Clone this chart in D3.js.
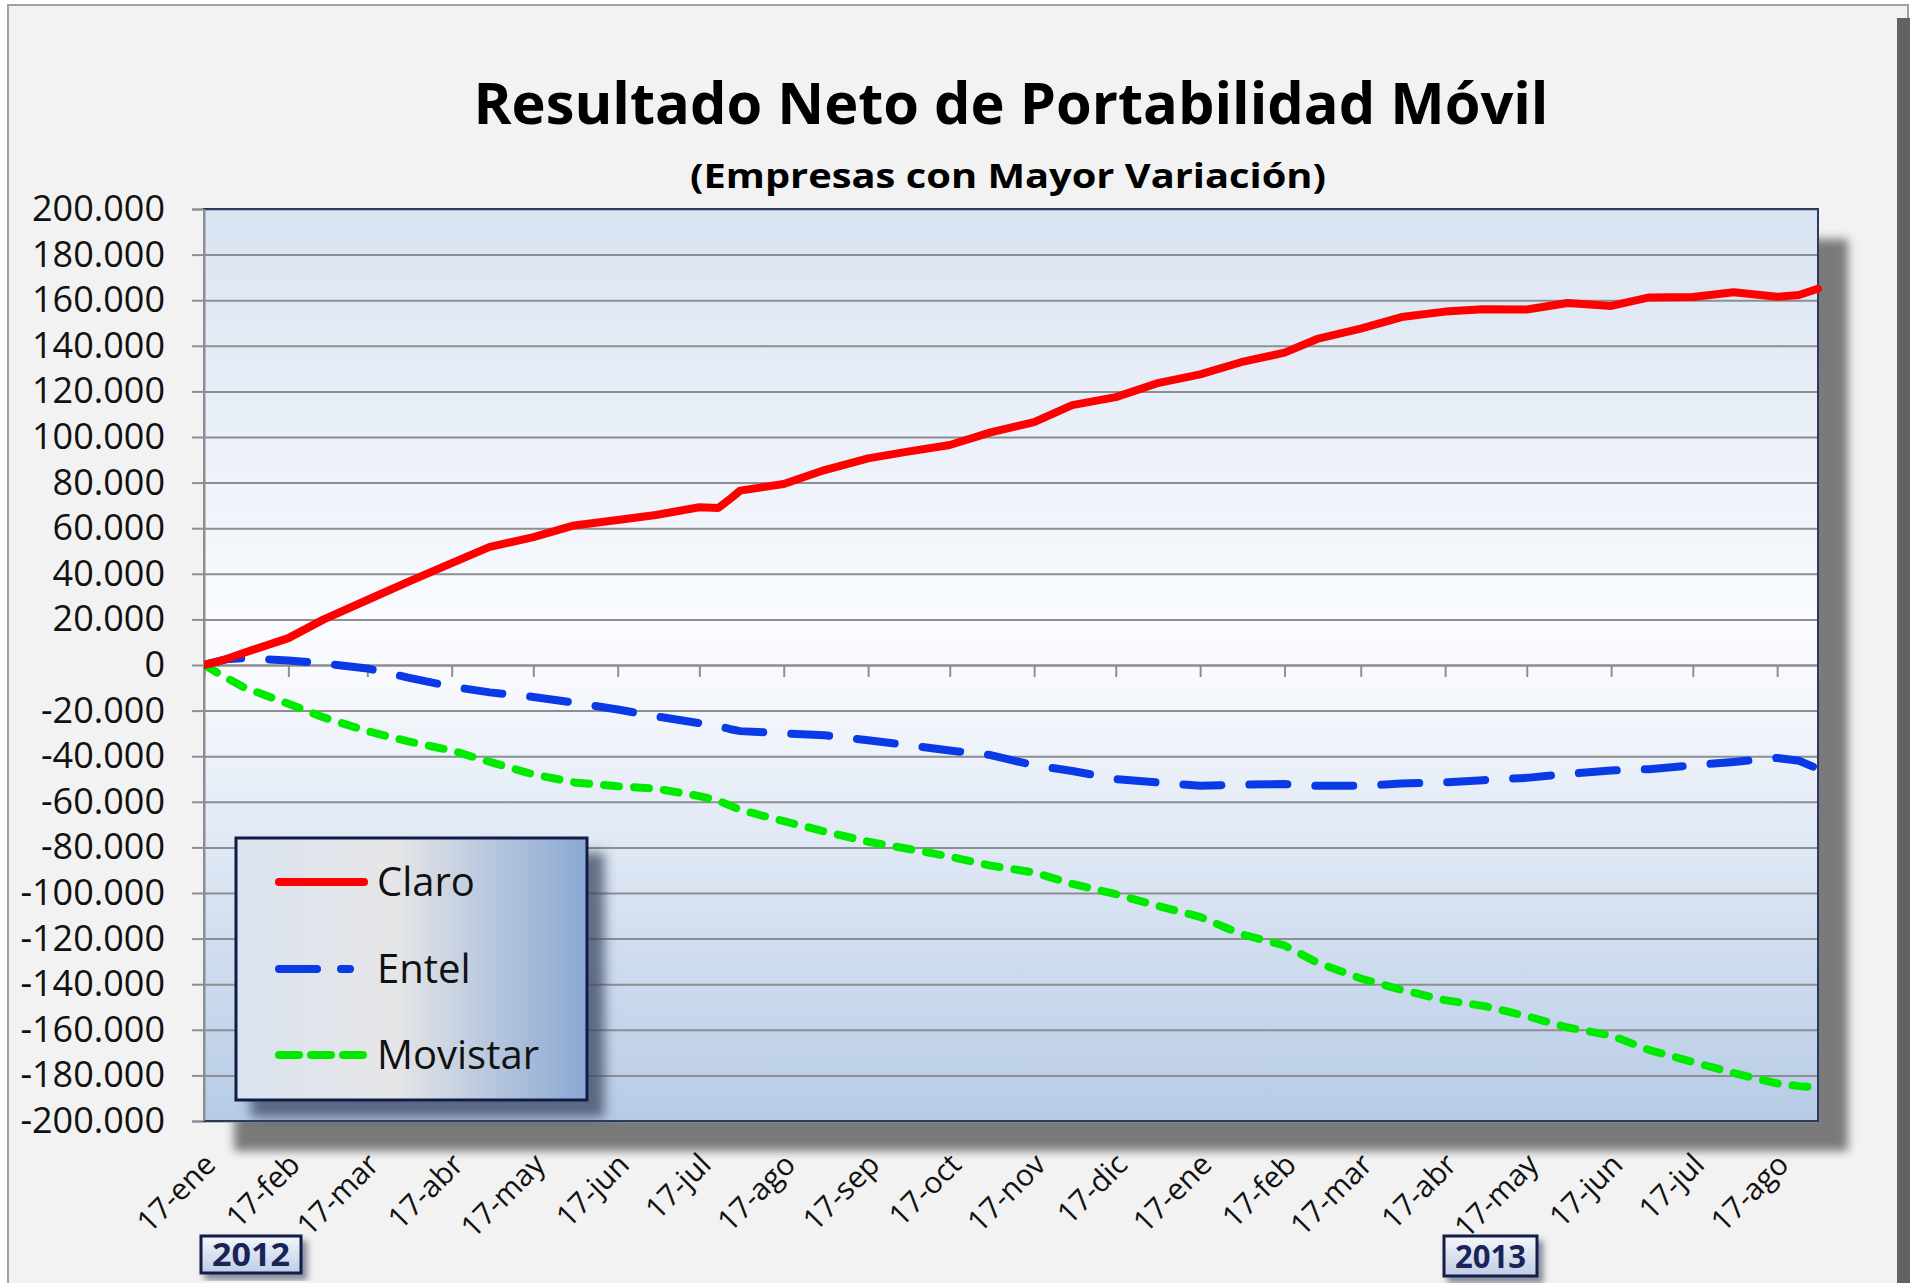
<!DOCTYPE html>
<html>
<head>
<meta charset="utf-8">
<script src="https://cdn.jsdelivr.net/npm/d3@7"></script>
<style>
  body { margin: 0; background: #fff; }
  svg { display: block; font-family: "Open Sans", sans-serif; }
</style>
</head>
<body>
<svg id="chart" width="1910" height="1283"></svg>
<script>
// values (net ported lines, cumulative)
const dates = ["2012-01-17","2012-01-25","2012-02-01","2012-02-17","2012-03-01","2012-03-17","2012-04-01","2012-04-17",
  "2012-05-01","2012-05-17","2012-06-01","2012-06-17","2012-07-01","2012-07-17","2012-07-24","2012-07-29","2012-08-01",
  "2012-08-17","2012-09-01","2012-09-17","2012-10-01","2012-10-17","2012-11-01","2012-11-17","2012-12-01","2012-12-17",
  "2013-01-01","2013-01-17","2013-02-01","2013-02-17","2013-03-01","2013-03-17","2013-04-01","2013-04-17","2013-05-01",
  "2013-05-17","2013-06-01","2013-06-17","2013-07-01","2013-07-17","2013-08-01","2013-08-17","2013-08-25","2013-09-01"];

const claro = [0, 2500, 5500, 11800, 20000, 28500, 36500, 44700, 51800, 56100, 61200, 63600, 65800, 69200, 68900, 73500,
  76500, 79400, 85500, 90600, 93500, 96500, 102000, 106500, 114000, 117500, 123500, 127500, 132800, 137000, 143000,
  147500, 152600, 155000, 156000, 155900, 158800, 157500, 161200, 161400, 163500, 161500, 162300, 165000];

const entel = [0, 2500, 3000, 2000, 700, -1500, -5500, -9500, -12000, -14000, -16500, -19500, -22500, -25500, -26800,
  -28300, -29000, -30000, -30800, -33000, -35000, -37500, -39500, -44000, -46500, -50000, -51500, -53000, -52500, -52200,
  -53000, -53000, -52000, -51500, -50500, -49500, -47800, -46300, -45700, -44000, -42500, -40800, -42000, -45500];

const movistar = [0, -5500, -10000, -17000, -23000, -29000, -33500, -37500, -42500, -48000, -51500, -53200, -54200,
  -57500, -59500, -62000, -63500, -68500, -73000, -77500, -80500, -84000, -88000, -91000, -96000, -100500, -105500,
  -110500, -118000, -123000, -130500, -137500, -142500, -147000, -149500, -154000, -159000, -162500, -168900, -174100,
  -179000, -183500, -184700, -185300];

const tickLabels = ["17-ene","17-feb","17-mar","17-abr","17-may","17-jun","17-jul","17-ago","17-sep","17-oct","17-nov",
  "17-dic","17-ene","17-feb","17-mar","17-abr","17-may","17-jun","17-jul","17-ago"];

const seriesNames = ["Claro", "Entel", "Movistar"];
const yearLabels = ["2012", "2013"];

const parse = d3.timeParse("%Y-%m-%d");
const svg = d3.select("#chart");

const plot = { left: 204, top: 209, right: 1818, bottom: 1121 };

const x = d3.scaleTime()
  .domain([parse("2012-01-17"), parse("2013-09-01")])
  .range([plot.left, plot.right]);
const y = d3.scaleLinear()
  .domain([-200000, 200000])
  .range([plot.bottom, plot.top]);

const locale = d3.formatLocale({ decimal: ",", thousands: ".", grouping: [3], currency: ["$", ""], minus: "-" });
const fmt = locale.format(",");

// defs: gradients + shadows
const defs = svg.append("defs");

const bg = defs.append("linearGradient").attr("id", "plotBg").attr("x1", 0).attr("y1", 0).attr("x2", 0).attr("y2", 1);
bg.append("stop").attr("offset", "0%").attr("stop-color", "#d9e3f1");
bg.append("stop").attr("offset", "45%").attr("stop-color", "#f9fbfe");
bg.append("stop").attr("offset", "52%").attr("stop-color", "#f7f9fd");
bg.append("stop").attr("offset", "100%").attr("stop-color", "#b7cbe6");

const lg = defs.append("linearGradient").attr("id", "legendBg").attr("x1", 0).attr("y1", 0).attr("x2", 1).attr("y2", 0);
lg.append("stop").attr("offset", "0%").attr("stop-color", "#dbe3ef");
lg.append("stop").attr("offset", "45%").attr("stop-color", "#e6e6e8");
lg.append("stop").attr("offset", "100%").attr("stop-color", "#8aa8d3");

const yb = defs.append("linearGradient").attr("id", "yearBg").attr("x1", 0).attr("y1", 0).attr("x2", 0).attr("y2", 1);
yb.append("stop").attr("offset", "0%").attr("stop-color", "#f4f6fb");
yb.append("stop").attr("offset", "100%").attr("stop-color", "#bfcde6");

function shadow(id, dx, dy, blur, color, opacity) {
  defs.append("filter").attr("id", id)
    .attr("x", "-10%").attr("y", "-10%").attr("width", "130%").attr("height", "130%")
    .append("feDropShadow")
    .attr("dx", dx).attr("dy", dy).attr("stdDeviation", blur)
    .attr("flood-color", color).attr("flood-opacity", opacity);
}
shadow("plotShadow", 30, 30, 5, "#7a7a7a", 1);
shadow("legendShadow", 16, 16, 6, "#3a4660", 0.75);
shadow("yearShadow", 5, 6, 3, "#3a4660", 0.6);

defs.append("clipPath").attr("id", "plotClip")
  .append("rect")
  .attr("x", plot.left).attr("y", plot.top - 10)
  .attr("width", plot.right - plot.left + 6).attr("height", plot.bottom - plot.top + 20);

// outer frame
svg.append("rect").attr("x", 8).attr("y", 5).attr("width", 1900).attr("height", 1300)
  .attr("fill", "#f2f2f2").attr("stroke", "#a0a0a0").attr("stroke-width", 2);
svg.append("rect").attr("x", 1897).attr("y", 18).attr("width", 13).attr("height", 1265).attr("fill", "#626262");

// title
svg.append("text")
  .attr("x", 1011).attr("y", 124)
  .attr("text-anchor", "middle")
  .attr("font-size", 58).attr("font-weight", 700)
  .attr("textLength", 1075).attr("lengthAdjust", "spacingAndGlyphs")
  .text("Resultado Neto de Portabilidad Móvil");
svg.append("text")
  .attr("x", 1008).attr("y", 188)
  .attr("text-anchor", "middle")
  .attr("font-size", 34).attr("font-weight", 700)
  .attr("textLength", 636).attr("lengthAdjust", "spacingAndGlyphs")
  .text("(Empresas con Mayor Variación)");

// plot background with shadow
svg.append("rect")
  .attr("x", plot.left).attr("y", plot.top)
  .attr("width", plot.right - plot.left).attr("height", plot.bottom - plot.top)
  .attr("fill", "url(#plotBg)")
  .attr("filter", "url(#plotShadow)");

// gridlines
const yTicks = d3.range(-200000, 200001, 20000);
svg.append("g")
  .attr("transform", `translate(${plot.left},0)`)
  .call(d3.axisLeft(y).tickValues(yTicks).tickSize(-(plot.right - plot.left)).tickFormat(""))
  .call(g => g.select(".domain").remove())
  .call(g => g.selectAll("line").attr("stroke", "#8c8e92").attr("stroke-width", 2));

// y axis
svg.append("g")
  .attr("transform", `translate(${plot.left},0)`)
  .call(d3.axisLeft(y).tickValues(yTicks).tickSize(12).tickPadding(27).tickFormat(fmt))
  .call(g => g.select(".domain").attr("stroke", "#8c8e92").attr("stroke-width", 2))
  .call(g => g.selectAll("line").attr("stroke", "#8c8e92").attr("stroke-width", 2))
  .call(g => g.selectAll("text")
    .attr("font-family", "Open Sans, sans-serif")
    .attr("font-size", 36).attr("fill", "#111"));

// x axis ticks along zero line
const tickDates = tickLabels.map((_, i) => new Date(2012, i, 17));
svg.append("g")
  .attr("transform", `translate(0,${y(0)})`)
  .call(d3.axisBottom(x).tickValues(tickDates).tickSize(12).tickFormat(""))
  .call(g => g.select(".domain").attr("stroke", "#8c8e92").attr("stroke-width", 2))
  .call(g => g.selectAll("line").attr("stroke", "#8c8e92").attr("stroke-width", 2));

// x tick labels below the plot, rotated
svg.append("g").selectAll("text")
  .data(tickDates)
  .join("text")
  .attr("transform", d => `translate(${x(d) + 6},${plot.bottom + 38}) rotate(-45)`)
  .attr("text-anchor", "end")
  .attr("dy", "0.35em")
  .attr("font-size", 30)
  .attr("fill", "#111")
  .text((d, i) => tickLabels[i]);

// plot border
svg.append("rect")
  .attr("x", plot.left).attr("y", plot.top)
  .attr("width", plot.right - plot.left).attr("height", plot.bottom - plot.top)
  .attr("fill", "none").attr("stroke", "#2b3a5e").attr("stroke-width", 2);
svg.append("line")
  .attr("x1", plot.left).attr("x2", plot.left).attr("y1", plot.top).attr("y2", plot.bottom)
  .attr("stroke", "#8c8e92").attr("stroke-width", 2);

// series
const parsedDates = dates.map(parse);
const series = [
  { name: seriesNames[0], values: claro, color: "#ff0000", dash: null },
  { name: seriesNames[1], values: entel, color: "#0a3ae6", dash: "38,28" },
  { name: seriesNames[2], values: movistar, color: "#00ea00", dash: "15,15" }
];

const line = d3.line()
  .x(d => x(d[0]))
  .y(d => y(d[1]));

const lines = svg.append("g").attr("clip-path", "url(#plotClip)");
lines.selectAll("path")
  .data(series.slice().reverse())
  .join("path")
  .attr("d", s => line(parsedDates.map((dt, i) => [dt, s.values[i]])))
  .attr("fill", "none")
  .attr("stroke", s => s.color)
  .attr("stroke-width", 8)
  .attr("stroke-linecap", "round")
  .attr("stroke-linejoin", "round")
  .attr("stroke-dasharray", s => s.dash);

// legend
const legend = svg.append("g");
legend.append("rect")
  .attr("x", 236).attr("y", 838).attr("width", 351).attr("height", 262)
  .attr("fill", "url(#legendBg)")
  .attr("stroke", "#101c48").attr("stroke-width", 3)
  .attr("filter", "url(#legendShadow)");

const legendRows = [882, 969, 1055];
const legendEnds = [364, 350, 364];
const legendDash = [null, "38,24", "20,12"];
series.forEach((s, i) => {
  legend.append("line")
    .attr("x1", 279).attr("x2", legendEnds[i])
    .attr("y1", legendRows[i]).attr("y2", legendRows[i])
    .attr("stroke", s.color).attr("stroke-width", 8)
    .attr("stroke-linecap", "round")
    .attr("stroke-dasharray", legendDash[i]);
  legend.append("text")
    .attr("x", 377).attr("y", legendRows[i] + 14)
    .attr("font-size", 40)
    .attr("fill", "#111")
    .text(s.name);
});

// year boxes
const yearBoxes = [
  { label: yearLabels[0], x: 201, y: 1236, w: 100, h: 37 },
  { label: yearLabels[1], x: 1444, y: 1236, w: 93, h: 40 }
];
yearBoxes.forEach(b => {
  svg.append("rect")
    .attr("x", b.x).attr("y", b.y).attr("width", b.w).attr("height", b.h)
    .attr("fill", "url(#yearBg)")
    .attr("stroke", "#141c48").attr("stroke-width", 3)
    .attr("filter", "url(#yearShadow)");
  svg.append("text")
    .attr("x", b.x + b.w / 2).attr("y", b.y + b.h / 2)
    .attr("dy", "0.36em")
    .attr("text-anchor", "middle")
    .attr("font-size", 32).attr("font-weight", 700)
    .attr("fill", "#1a2456")
    .attr("textLength", b.w - 22).attr("lengthAdjust", "spacingAndGlyphs")
    .text(b.label);
});
</script>
</body>
</html>
